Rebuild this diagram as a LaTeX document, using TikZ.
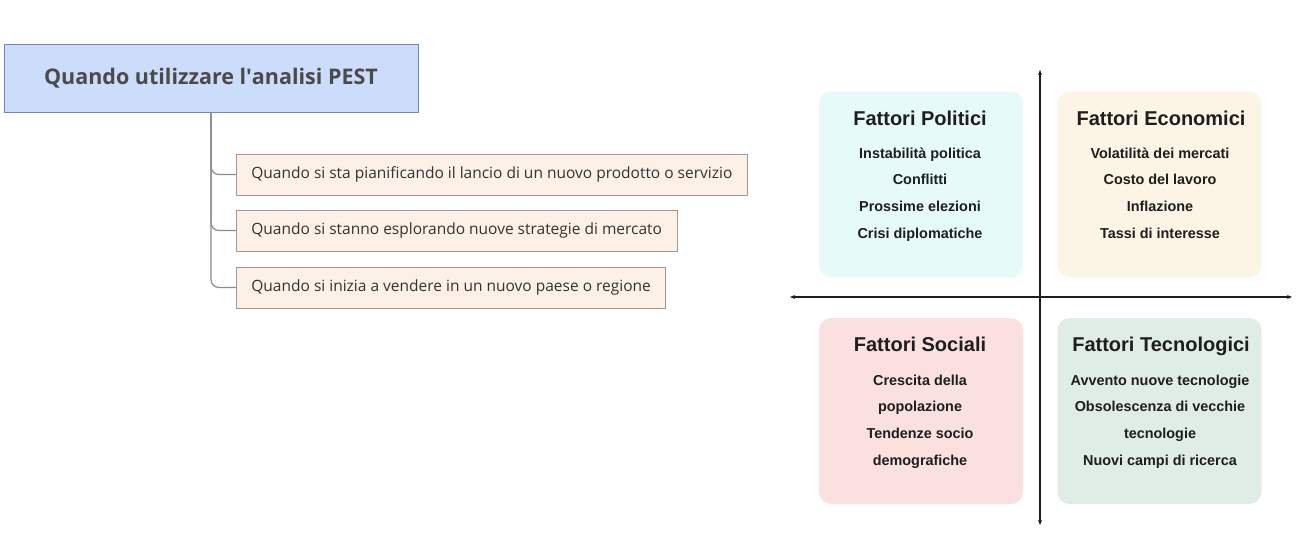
\documentclass[tikz,border=0pt]{standalone}
\usepackage{fontspec}
\setmainfont{Open Sans}
\newfontfamily\quadfont{Liberation Sans}
\usetikzlibrary{arrows.meta,positioning}

\definecolor{rootfill}{HTML}{CCDDFB}
\definecolor{rootline}{HTML}{6D87B6}
\definecolor{roottext}{HTML}{4A4A4A}
\definecolor{casefill}{HTML}{FDF0E7}
\definecolor{caseline}{HTML}{A8968A}
\definecolor{casetext}{HTML}{333333}
\definecolor{linkgray}{HTML}{8C8C8C}
\definecolor{polfill}{HTML}{E6FAFA}
\definecolor{ecofill}{HTML}{FCF4E4}
\definecolor{socfill}{HTML}{FAE0DE}
\definecolor{tecfill}{HTML}{E0EDE4}
\definecolor{quadtext}{HTML}{1E1E1E}

\begin{document}
\begin{tikzpicture}[x=1pt,y=-1pt,
  root/.style={draw=rootline, fill=rootfill, line width=1pt, minimum width=414pt,
    minimum height=67pt, font=\fontsize{21.5}{24}\bfseries\selectfont, text=roottext},
  case/.style={draw=caseline, fill=casefill, line width=0.8pt, anchor=west,
    minimum height=41pt, inner xsep=15pt, font=\fontsize{15.5}{17}\selectfont, text=casetext},
  link/.style={draw=linkgray, line width=1.2pt, rounded corners=8pt},
  quad/.style={fill=#1, rounded corners=12pt, minimum width=204pt, minimum height=186pt},
  qtitle/.style={anchor=base, text=quadtext, font=\quadfont\fontsize{20}{22}\bfseries\selectfont},
  qitem/.style={anchor=base, text=quadtext, font=\quadfont\fontsize{14.4}{16}\bfseries\selectfont},
  axis/.style={draw=quadtext, line width=1.1pt, >={Stealth[length=5pt,width=4pt]}, <->}]
\useasboundingbox (0,0) rectangle (1305,535);

% mind map
\node[root] (root) at (211,78.5) {Quando utilizzare l\textquotesingle analisi PEST};
\node[case] (c1) at (236,174.5) {Quando si sta pianificando il lancio di un nuovo prodotto o servizio};
\node[case] (c2) at (236,230.5) {Quando si stanno esplorando nuove strategie di mercato};
\node[case] (c3) at (236,287.5) {Quando si inizia a vendere in un nuovo paese o regione};
\draw[link] (root.south) |- (c1.west);
\draw[link] (root.south) |- (c2.west);
\draw[link] (root.south) |- (c3.west);

% PEST quadrants
\node[quad=polfill] (pol) at (921,184.5) {};
\node[quad=ecofill] (eco) at (1159.5,184.5) {};
\node[quad=socfill] (soc) at (921,411) {};
\node[quad=tecfill] (tec) at (1159.5,411) {};

\node[qtitle] (pol-t) at (920,125) {Fattori Politici};
\node[qtitle] (eco-t) at (1161,125) {Fattori Economici};
\node[qtitle] (soc-t) at (920,351) {Fattori Sociali};
\node[qtitle] (tec-t) at (1161,351) {Fattori Tecnologici};

\foreach \t [count=\i from 0] in {Instabilità politica, Conflitti, Prossime elezioni, Crisi diplomatiche}
  \node[qitem] (pol-\i) at (920,{158+26.7*\i}) {\t};
\foreach \t [count=\i from 0] in {Volatilità dei mercati, Costo del lavoro, Inflazione, Tassi di interesse}
  \node[qitem] (eco-\i) at (1160,{158+26.7*\i}) {\t};
\foreach \t [count=\i from 0] in {Crescita della, popolazione, Tendenze socio, demografiche}
  \node[qitem] (soc-\i) at (920,{385+26.7*\i}) {\t};
\foreach \t [count=\i from 0] in {Avvento nuove tecnologie, Obsolescenza di vecchie, tecnologie, Nuovi campi di ricerca}
  \node[qitem] (tec-\i) at (1160,{385+26.7*\i}) {\t};

% axes
\coordinate (ax-l) at (790,297);
\coordinate (ax-r) at (1292,297);
\coordinate (ax-t) at (1040,70);
\coordinate (ax-b) at (1040,525);
\draw[axis] (ax-l) -- (ax-r);
\draw[axis] (ax-t) -- (ax-b);
\end{tikzpicture}
\end{document}
